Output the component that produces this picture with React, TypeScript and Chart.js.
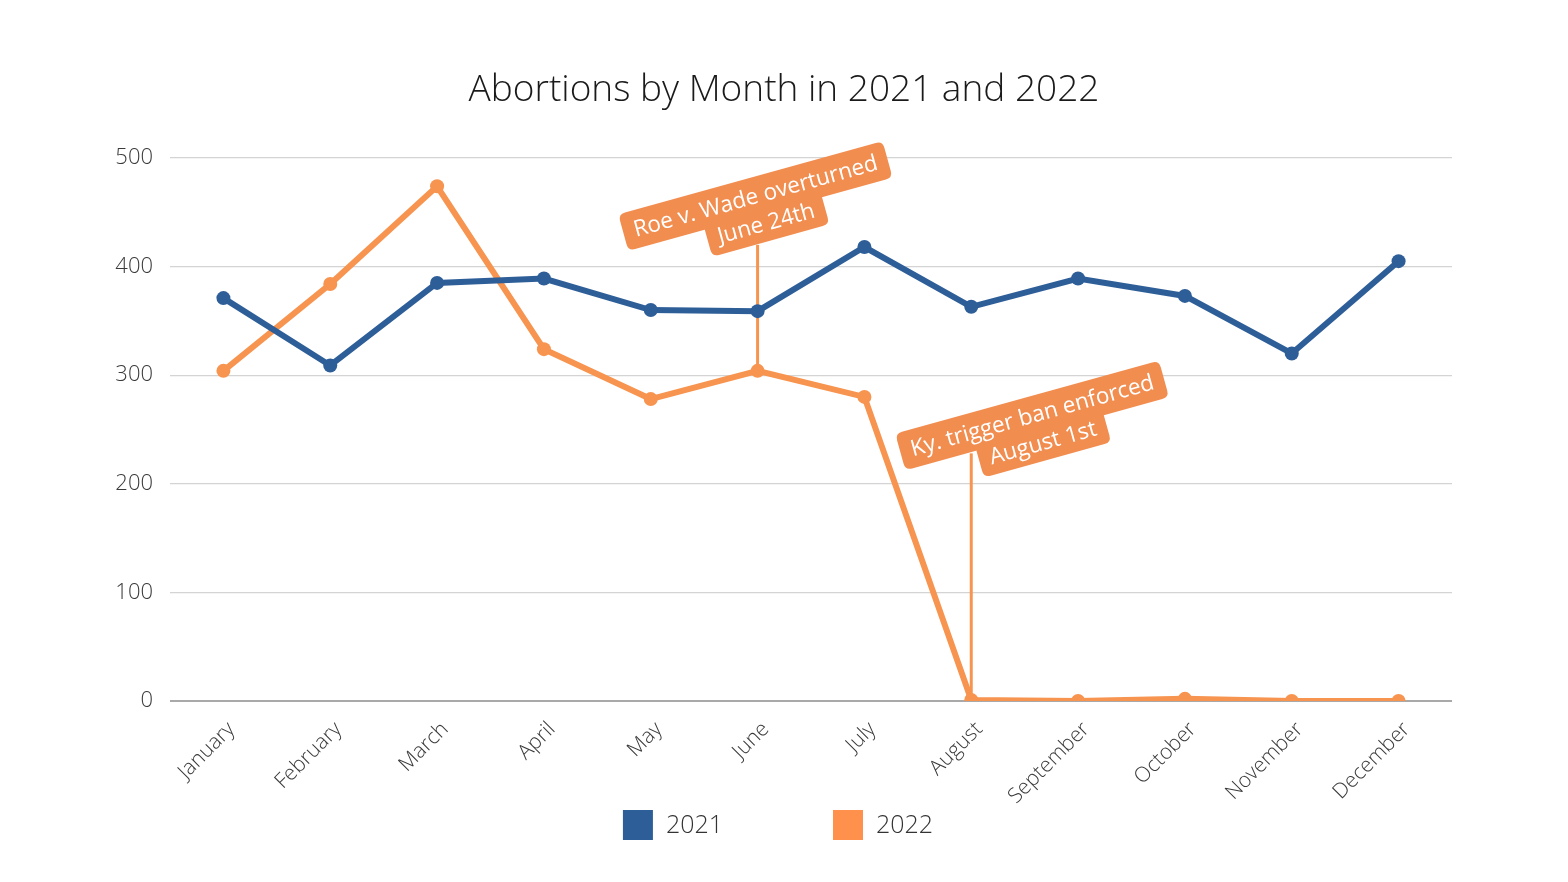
import React, { useEffect, useRef } from "react";
import { Chart, registerables } from "chart.js";

Chart.register(...registerables);

const titleText = "Abortions by Month in 2021 and 2022";
const months = [
  "January", "February", "March", "April", "May", "June",
  "July", "August", "September", "October", "November", "December",
];
const values2021 = [371, 309, 385, 389, 360, 359, 418, 363, 389, 373, 320, 405];
const values2022 = [304, 384, 474, 324, 278, 304, 280, 1, 0, 2, 0, 0];
const seriesLabels = ["2021", "2022"];
const yMin = 0;
const yMax = 500;
const yStep = 100;

// annotations (text + the month/value they anchor to)
const noteLine1 = ["Roe v. Wade overturned", "Ky. trigger ban enforced"];
const noteLine2 = ["June 24th", "August 1st"];
const noteMonthIndex = [5, 7];
const noteLabelX = [4.98, 7.57];
const noteLabelY = [465, 263];
const noteLeaderTop = [420, 228];

const BLUE = "#2E5E98";
const ORANGE = "#F7944F";
const ORANGE_LEGEND = "#FF914D";
const NOTE_BG = "#F28D50";
const FONT = "'Open Sans', 'Noto Sans', sans-serif";

function xAt(scale: any, v: number) {
  const i = Math.floor(v);
  const f = v - i;
  const a = scale.getPixelForValue(i);
  const b = scale.getPixelForValue(i + 1);
  return a + (b - a) * f;
}

function roundRect(ctx: CanvasRenderingContext2D, x: number, y: number, w: number, h: number, r: number) {
  ctx.beginPath();
  ctx.moveTo(x + r, y);
  ctx.lineTo(x + w - r, y);
  ctx.quadraticCurveTo(x + w, y, x + w, y + r);
  ctx.lineTo(x + w, y + h - r);
  ctx.quadraticCurveTo(x + w, y + h, x + w - r, y + h);
  ctx.lineTo(x + r, y + h);
  ctx.quadraticCurveTo(x, y + h, x, y + h - r);
  ctx.lineTo(x, y + r);
  ctx.quadraticCurveTo(x, y, x + r, y);
  ctx.closePath();
}

const decorPlugin = {
  id: "decor",
  beforeDatasetsDraw(chart: any) {
    const ctx = chart.ctx as CanvasRenderingContext2D;
    const xs = chart.scales.x;
    const ys = chart.scales.y;
    ctx.save();
    ctx.strokeStyle = ORANGE;
    ctx.lineWidth = 3;
    for (let k = 0; k < noteMonthIndex.length; k++) {
      const m = noteMonthIndex[k];
      const x = xs.getPixelForValue(m);
      ctx.beginPath();
      ctx.moveTo(x, ys.getPixelForValue(values2022[m]));
      ctx.lineTo(x, ys.getPixelForValue(noteLeaderTop[k]));
      ctx.stroke();
    }
    ctx.restore();
  },
  afterDatasetsDraw(chart: any) {
    const ctx = chart.ctx as CanvasRenderingContext2D;
    const xs = chart.scales.x;
    const ys = chart.scales.y;
    ctx.save();
    ctx.font = `400 22.5px ${FONT}`;
    for (let k = 0; k < noteLine1.length; k++) {
      const cx = xAt(xs, noteLabelX[k]);
      const cy = ys.getPixelForValue(noteLabelY[k]);
      ctx.save();
      ctx.translate(cx, cy);
      ctx.rotate((-15.5 * Math.PI) / 180);
      const w1 = ctx.measureText(noteLine1[k]).width + 22;
      const w2 = ctx.measureText(noteLine2[k]).width + 22;
      const h1 = 38;
      const dx2 = 3;
      const dy2 = 29;
      ctx.fillStyle = NOTE_BG;
      roundRect(ctx, -w1 / 2, -h1 / 2, w1, h1, 7);
      ctx.fill();
      roundRect(ctx, dx2 - w2 / 2, 0, w2, dy2 + 18, 7);
      ctx.fill();
      ctx.fillStyle = "#FFFFFF";
      ctx.textAlign = "center";
      ctx.textBaseline = "middle";
      ctx.fillText(noteLine1[k], 0, 1);
      ctx.fillText(noteLine2[k], dx2, dy2 + 1);
      ctx.restore();
    }
    ctx.restore();
  },
  afterDraw(chart: any) {
    const ctx = chart.ctx as CanvasRenderingContext2D;
    ctx.save();
    // title
    ctx.fillStyle = "#1a1a1a";
    ctx.font = `300 37px ${FONT}`;
    ctx.textAlign = "center";
    ctx.textBaseline = "middle";
    ctx.fillText(titleText, 784, 90);
    // legend
    ctx.font = `300 25px ${FONT}`;
    ctx.textAlign = "left";
    const colors = [BLUE, ORANGE_LEGEND];
    const box = 30;
    const gap = 13;
    const itemGap = 110;
    const widths = seriesLabels.map((s) => ctx.measureText(s).width);
    let total = 0;
    widths.forEach((w, i) => {
      total += box + gap + w + (i < widths.length - 1 ? itemGap : 0);
    });
    let x = 778 - total / 2;
    const cy = 825;
    seriesLabels.forEach((s, i) => {
      ctx.fillStyle = colors[i];
      ctx.fillRect(x, cy - box / 2, box, box);
      ctx.fillStyle = "#333333";
      ctx.fillText(s, x + box + gap, cy + 1);
      x += box + gap + widths[i] + itemGap;
    });
    ctx.restore();
  },
};

export default function App() {
  const ref = useRef<HTMLCanvasElement | null>(null);
  useEffect(() => {
    if (!ref.current) return;
    const chart = new Chart(ref.current, {
      type: "line",
      data: {
        labels: months,
        datasets: [
          {
            label: seriesLabels[0],
            data: values2021,
            borderColor: BLUE,
            backgroundColor: BLUE,
            pointBackgroundColor: BLUE,
            pointBorderColor: BLUE,
            borderWidth: 6,
            pointRadius: 7,
            pointBorderWidth: 0,
            tension: 0,
          },
          {
            label: seriesLabels[1],
            data: values2022,
            borderColor: ORANGE,
            backgroundColor: ORANGE,
            pointBackgroundColor: ORANGE,
            pointBorderColor: ORANGE,
            borderWidth: 6,
            pointRadius: 7,
            pointBorderWidth: 0,
            tension: 0,
          },
        ],
      },
      options: {
        animation: false,
        responsive: true,
        maintainAspectRatio: false,
        events: [],
        layout: { padding: { top: 158, left: 0, right: 116, bottom: 0 } },
        plugins: {
          legend: { display: false },
          title: { display: false },
          tooltip: { enabled: false },
        },
        scales: {
          x: {
            offset: true,
            grid: { display: false },
            border: { display: false },
            ticks: {
              minRotation: 45,
              maxRotation: 45,
              padding: 8,
              labelOffset: 8,
              color: "#3a3a3a",
              font: { family: FONT, size: 21, weight: "300" as any },
            },
            afterFit(scale: any) {
              scale.height = 181;
            },
          },
          y: {
            min: yMin,
            max: yMax,
            grid: {
              drawTicks: false,
              color: (c: any) => (c.tick && c.tick.value === 0 ? "#A9A9A9" : "#D4D4D4"),
              lineWidth: (c: any) => (c.tick && c.tick.value === 0 ? 2 : 1.3),
            },
            border: { display: false },
            ticks: {
              stepSize: yStep,
              padding: 17,
              color: "#3a3a3a",
              font: { family: FONT, size: 22, weight: "300" as any },
            },
            afterFit(scale: any) {
              scale.width = 170;
            },
          },
        },
      },
      plugins: [decorPlugin],
    });
    return () => chart.destroy();
  }, []);
  return (
    <div style={{ position: "fixed", left: 0, top: 0, width: 1568, height: 882, background: "#fff" }}>
      <canvas ref={ref} />
    </div>
  );
}
